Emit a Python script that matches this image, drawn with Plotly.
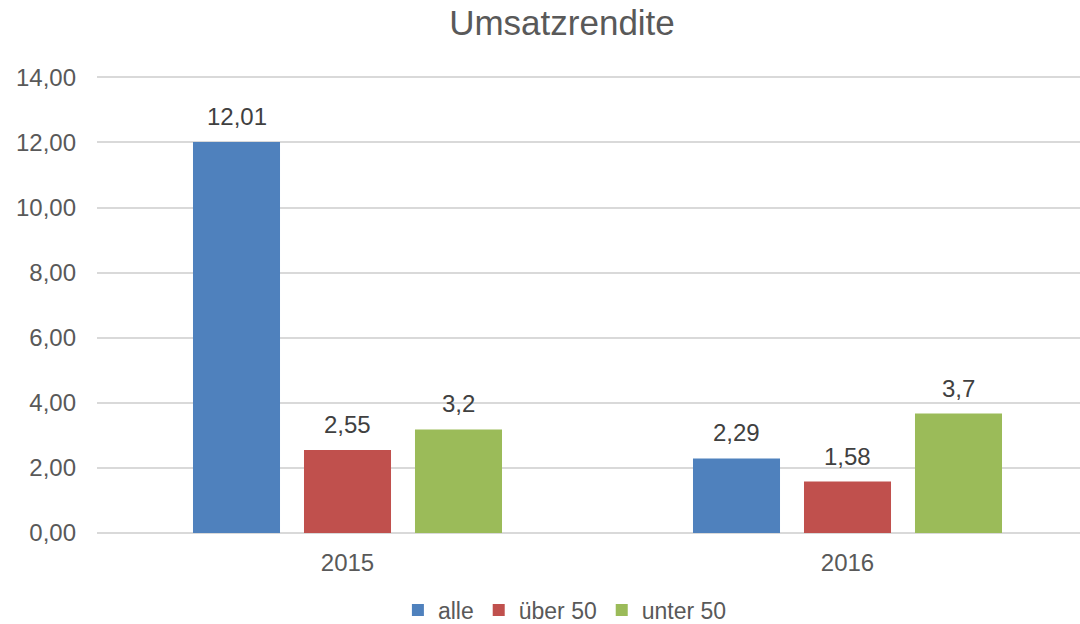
import plotly.graph_objects as go

categories = ["2015", "2016"]
series_names = ["alle", "über 50", "unter 50"]
alle = [12.01, 2.29]
ueber50 = [2.55, 1.58]
unter50 = [3.18, 3.67]
y_ticks = [0, 2, 4, 6, 8, 10, 12, 14]

colors = ["#4F81BD", "#C0504D", "#9BBB59"]
label_formats = ["{:.2f}", "{:.2f}", "{:.1f}"]
group_shift = [-111, 0, 111]
FONT = "Liberation Sans"

fig = go.Figure()
for name, vals, col in zip(series_names, [alle, ueber50, unter50], colors):
    fig.add_trace(go.Bar(
        x=categories, y=vals, name=name,
        marker=dict(color=col, line=dict(width=0)),
    ))

annotations = []
for vals, fmt, sh in zip([alle, ueber50, unter50], label_formats, group_shift):
    for i, v in enumerate(vals):
        annotations.append(dict(
            x=i, y=v, xref="x", yref="y", text=fmt.format(v).replace(".", ","),
            showarrow=False, xanchor="center", yanchor="bottom",
            xshift=sh, yshift=10,
            font=dict(size=24, color="#404040", family=FONT),
        ))

fig.update_layout(
    width=1080, height=624,
    paper_bgcolor="white", plot_bgcolor="white",
    separators=", ",
    margin=dict(l=97, r=0, t=76, b=91),
    title=dict(text="Umsatzrendite", x=562 / 1080, xref="container",
               xanchor="center", y=1 - 23 / 624, yref="container", yanchor="middle",
               font=dict(size=35, color="#595959", family=FONT)),
    barmode="group", bargap=0.334, bargroupgap=0.216,
    showlegend=True,
    legend=dict(orientation="h", x=0.476, xref="paper", xanchor="center",
                y=1 - 610 / 624, yref="container", yanchor="middle",
                font=dict(size=23, color="#595959", family=FONT),
                itemwidth=30, traceorder="normal"),
    font=dict(family=FONT, color="#595959"),
    annotations=annotations,
)
fig.update_xaxes(type="category", range=[-0.501, 1.465], showgrid=False, showline=False,
                 ticks="", automargin=False,
                 tickfont=dict(size=24, color="#595959", family=FONT),
                 ticklabelstandoff=13)
fig.update_yaxes(range=[0, 14.04], tickvals=y_ticks, tickformat=".2f",
                 automargin=False,
                 showgrid=True, gridcolor="#D9D9D9", gridwidth=1.5,
                 zeroline=True, zerolinecolor="#D9D9D9", zerolinewidth=1.5,
                 showline=False, ticks="",
                 tickfont=dict(size=24, color="#595959", family=FONT),
                 ticklabelstandoff=20)
fig.write_html("out.html", config={"displayModeBar": False},
               post_script="document.body.style.margin='0';document.body.style.overflow='hidden';")
